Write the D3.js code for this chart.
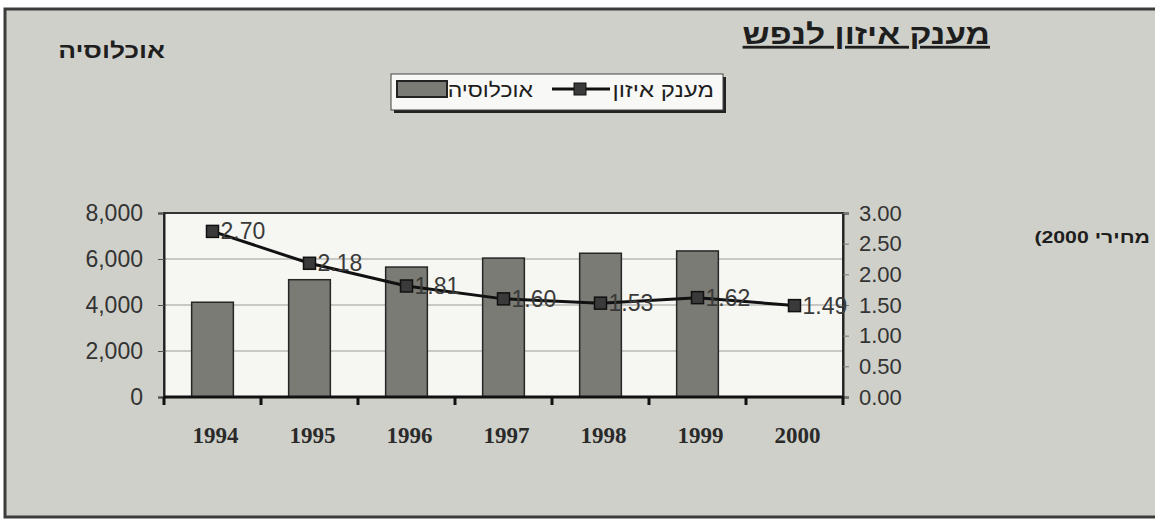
<!DOCTYPE html>
<html>
<head>
<meta charset="utf-8">
<script src="https://cdn.jsdelivr.net/npm/d3@7"></script>
<style>
  html, body { margin: 0; padding: 0; background: #ffffff; }
  svg { display: block; }
</style>
</head>
<body>
<script>
// data
const years = ['1994', '1995', '1996', '1997', '1998', '1999', '2000'];
const population = [4120, 5100, 5650, 6040, 6250, 6350, null];   // bars, left axis
const grant = [2.70, 2.18, 1.81, 1.60, 1.53, 1.62, 1.49];          // line, right axis
const leftTicks = [0, 2000, 4000, 6000, 8000];
const rightTicks = [0, 0.5, 1, 1.5, 2, 2.5, 3];

const width = 1155;
const height = 519;
const plot = { left: 164, right: 843, top: 213, bottom: 397 };
const sans = 'Liberation Sans, Arial, sans-serif';

const svg = d3.select('body').append('svg')
  .attr('width', width)
  .attr('height', height);

// outer frame (scanned page)
svg.append('rect')
  .attr('x', 5).attr('y', 9)
  .attr('width', width + 10).attr('height', 508)
  .attr('fill', '#cfd0c9')
  .attr('stroke', '#3c3c3c')
  .attr('stroke-width', 3);

const x = d3.scaleBand()
  .domain(years)
  .range([plot.left, plot.right])
  .padding(0);

const yLeft = d3.scaleLinear()
  .domain([0, 8000])
  .range([plot.bottom, plot.top]);

const yRight = d3.scaleLinear()
  .domain([0, 3])
  .range([plot.bottom, plot.top]);

// hebrew text, right edge at x; the scan is a bit stretched sideways
function hebrew(x0, y0, str, size, bold, sx) {
  return svg.append('text')
    .attr('transform', `translate(${x0},${y0}) scale(${sx},1)`)
    .attr('direction', 'rtl')
    .attr('text-anchor', 'start')
    .attr('font-family', sans)
    .attr('font-weight', bold ? 'bold' : 'normal')
    .attr('font-size', size)
    .attr('fill', '#1e1e1e')
    .text(str);
}

// plot background
svg.append('rect')
  .attr('x', plot.left).attr('y', plot.top)
  .attr('width', plot.right - plot.left)
  .attr('height', plot.bottom - plot.top)
  .attr('fill', '#f6f6f3');

// gridlines
svg.append('g')
  .selectAll('line')
  .data(leftTicks.filter(d => d > 0 && d < 8000))
  .enter()
  .append('line')
  .attr('x1', plot.left).attr('x2', plot.right)
  .attr('y1', d => yLeft(d)).attr('y2', d => yLeft(d))
  .attr('stroke', '#9a9a96')
  .attr('stroke-width', 1.2);

// plot border
svg.append('rect')
  .attr('x', plot.left).attr('y', plot.top)
  .attr('width', plot.right - plot.left)
  .attr('height', plot.bottom - plot.top)
  .attr('fill', 'none')
  .attr('stroke', '#333')
  .attr('stroke-width', 2);

// bars
const barW = x.bandwidth() * 0.43;
svg.append('g')
  .selectAll('rect')
  .data(years.map((y, i) => ({ year: y, value: population[i] })).filter(d => d.value != null))
  .enter()
  .append('rect')
  .attr('x', d => x(d.year) + x.bandwidth() / 2 - barW / 2)
  .attr('y', d => yLeft(d.value))
  .attr('width', barW)
  .attr('height', d => yLeft(0) - yLeft(d.value))
  .attr('fill', '#7a7b74')
  .attr('stroke', '#262626')
  .attr('stroke-width', 1.5);

// left axis
const leftAxis = svg.append('g')
  .attr('transform', `translate(${plot.left},0)`)
  .call(d3.axisLeft(yLeft).tickValues(leftTicks).tickSize(6).tickPadding(15).tickFormat(d3.format(',')));
leftAxis.select('.domain').attr('stroke', '#222').attr('stroke-width', 2);
leftAxis.selectAll('.tick line').attr('stroke', '#555');
leftAxis.selectAll('text')
  .attr('font-family', sans)
  .attr('font-size', 23)
  .attr('fill', '#333');

// right axis
const rightAxis = svg.append('g')
  .attr('transform', `translate(${plot.right},0)`)
  .call(d3.axisRight(yRight).tickValues(rightTicks).tickSize(6).tickPadding(10).tickFormat(d3.format('.2f')));
rightAxis.select('.domain').attr('stroke', '#222').attr('stroke-width', 2);
rightAxis.selectAll('.tick line').attr('stroke', '#777');
rightAxis.selectAll('text')
  .attr('font-family', sans)
  .attr('font-size', 22)
  .attr('fill', '#333');

// bottom axis: ticks between categories
const xAxis = svg.append('g')
  .attr('transform', `translate(0,${plot.bottom})`);
xAxis.append('line')
  .attr('x1', plot.left).attr('x2', plot.right)
  .attr('stroke', '#111').attr('stroke-width', 3);
xAxis.selectAll('line.tick')
  .data(years.map(y => x(y)).concat([plot.right]))
  .enter()
  .append('line')
  .attr('class', 'tick')
  .attr('x1', d => d).attr('x2', d => d)
  .attr('y1', 0).attr('y2', 8)
  .attr('stroke', '#111').attr('stroke-width', 3);
xAxis.selectAll('text')
  .data(years)
  .enter()
  .append('text')
  .attr('x', d => x(d) + x.bandwidth() / 2 + 3)
  .attr('y', 46)
  .attr('text-anchor', 'middle')
  .attr('font-family', 'Liberation Serif, Times New Roman, serif')
  .attr('font-weight', 'bold')
  .attr('font-size', 23)
  .attr('fill', '#2a2a2a')
  .text(d => d);

// line series
const pts = years.map((y, i) => ({ year: y, value: grant[i] }));
const line = d3.line()
  .x(d => x(d.year) + x.bandwidth() / 2)
  .y(d => yRight(d.value));

svg.append('path')
  .datum(pts)
  .attr('d', line)
  .attr('fill', 'none')
  .attr('stroke', '#111')
  .attr('stroke-width', 3);

svg.append('g')
  .selectAll('rect')
  .data(pts)
  .enter()
  .append('rect')
  .attr('x', d => x(d.year) + x.bandwidth() / 2 - 6)
  .attr('y', d => yRight(d.value) - 6)
  .attr('width', 12).attr('height', 12)
  .attr('fill', '#3a3a3a')
  .attr('stroke', '#111')
  .attr('stroke-width', 1.5);

svg.append('g')
  .selectAll('text')
  .data(pts)
  .enter()
  .append('text')
  .attr('x', d => x(d.year) + x.bandwidth() / 2 + 8)
  .attr('y', d => yRight(d.value) + 2)
  .attr('dominant-baseline', 'middle')
  .attr('font-family', sans)
  .attr('font-size', 23)
  .attr('fill', '#3a3a3a')
  .text(d => d3.format('.2f')(d.value));

// titles
const title = hebrew(990, 44, 'מענק איזון לנפש', 28, true, 1.2);
title.attr('text-decoration', 'underline');
hebrew(165, 58, 'אוכלוסיה', 22, true, 1.2);
hebrew(1150, 243, 'מחירי 2000)', 17, true, 1.25);

// legend
const legend = svg.append('g');
legend.append('rect')
  .attr('x', 394).attr('y', 77)
  .attr('width', 332).attr('height', 36)
  .attr('fill', '#222');
legend.append('rect')
  .attr('x', 391).attr('y', 74)
  .attr('width', 332).attr('height', 36)
  .attr('fill', '#f8f8f6')
  .attr('stroke', '#444')
  .attr('stroke-width', 1);

legend.append('rect')
  .attr('x', 397).attr('y', 81)
  .attr('width', 50).attr('height', 16)
  .attr('fill', '#7a7b74')
  .attr('stroke', '#222')
  .attr('stroke-width', 2);
hebrew(533, 97, 'אוכלוסיה', 20, false, 1.15);

legend.append('line')
  .attr('x1', 552).attr('x2', 610)
  .attr('y1', 89).attr('y2', 89)
  .attr('stroke', '#111').attr('stroke-width', 3);
legend.append('rect')
  .attr('x', 574).attr('y', 83)
  .attr('width', 12).attr('height', 12)
  .attr('fill', '#3a3a3a')
  .attr('stroke', '#111');
hebrew(714, 97, 'מענק איזון', 20, false, 1.2);
</script>
</body>
</html>
